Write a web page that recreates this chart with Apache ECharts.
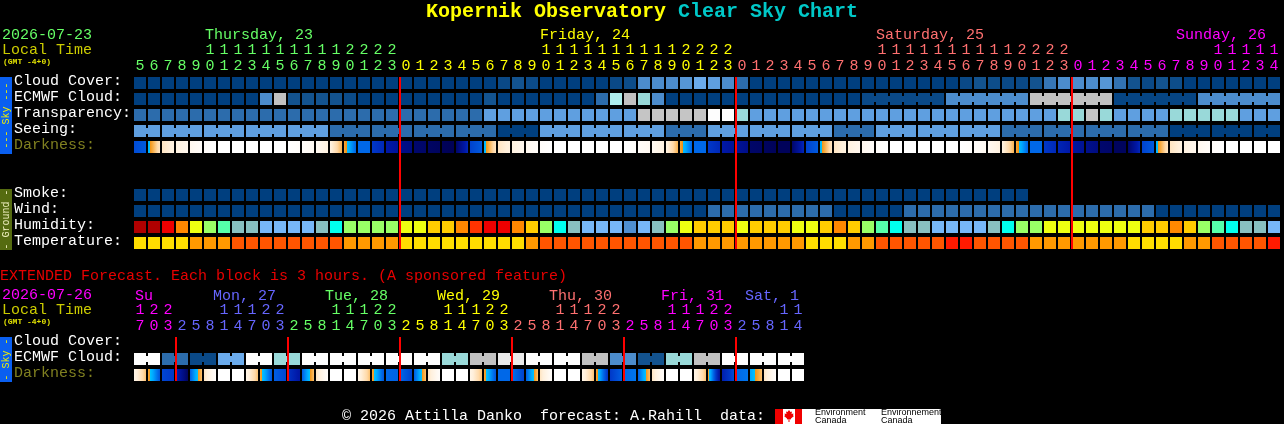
<!DOCTYPE html>
<html>
<head>
<meta charset="utf-8">
<style>html,body{margin:0;padding:0;background:#000}#c{width:1284px;height:424px}</style>
<script src="https://cdn.jsdelivr.net/npm/echarts@6/dist/echarts.min.js"></script>
</head>
<body>
<div id="c"></div>
<script>
// ---------- data ----------
const mainRows = ["Cloud Cover:","ECMWF Cloud:","Transparency:","Seeing:","Darkness:","","","Smoke:","Wind:","Humidity:","Temperature:"];
const extRows = ["Cloud Cover:","ECMWF Cloud:","Darkness:"];
const mainTens = [0,0,0,0,0,1,1,1,1,1,1,1,1,1,1,2,2,2,2,
  0,0,0,0,0,0,0,0,0,0,1,1,1,1,1,1,1,1,1,1,2,2,2,2,
  0,0,0,0,0,0,0,0,0,0,1,1,1,1,1,1,1,1,1,1,2,2,2,2,
  0,0,0,0,0,0,0,0,0,0,1,1,1,1,1];
const mainUnits = [5,6,7,8,9,0,1,2,3,4,5,6,7,8,9,0,1,2,3,
  0,1,2,3,4,5,6,7,8,9,0,1,2,3,4,5,6,7,8,9,0,1,2,3,
  0,1,2,3,4,5,6,7,8,9,0,1,2,3,4,5,6,7,8,9,0,1,2,3,
  0,1,2,3,4,5,6,7,8,9,0,1,2,3,4];
const extTens = [1,2,2, 0,0,0,1,1,1,2,2, 0,0,0,1,1,1,2,2, 0,0,0,1,1,1,2,2, 0,0,0,1,1,1,2,2, 0,0,0,1,1,1,2,2, 0,0,0,1,1];
const extUnits = [7,0,3, 2,5,8,1,4,7,0,3, 2,5,8,1,4,7,0,3, 2,5,8,1,4,7,0,3, 2,5,8,1,4,7,0,3, 2,5,8,1,4,7,0,3, 2,5,8,1,4];
const mainDayStarts = [0,19,43,67];
const extDayStarts = [0,3,11,19,27,35,43];
const mainDayNames = ["Thursday, 23","Friday, 24","Saturday, 25","Sunday, 26"];
const extDayNames = ["Su","Mon, 27","Tue, 28","Wed, 29","Thu, 30","Fri, 31","Sat, 1"];
const mainMidnights = [19,43,67];
const extMidnights = [3,11,19,27,35,43];

const cloud = [0,0,0,0,0,0,0,0,0,0,0,0,0,0,0,0,0,0,0,0,0,0,0,0,0,0,0.5,1,0.6,0,0,0,0,0,0.5,0.7,3,3,3,3.5,4.5,4,3,2,
  0,0,0,0,0,0,0,0,0,0,0,0,0,0,0,0.5,1,0.7,0.5,0.5,1,2.3,3,3,3,3.5,2.2,1,0.5,1,0.7,0,0,0,0,0,0,0];
const ecmwf = [0,0,0,0,0,0,0,0,0,3,8,1,1,1,1,0.6,0,0,0,0,0,0,0,0,0,1,0,0,0,0,0,0,0,2,7,8,6,3,0,0,0,0,0,0,0,0,0,0,0,0,0,0,
  0.5,0.5,0.5,0.5,0.5,0.5,3,3,3,3,3,3,8,8,8,8,8,8,0.3,0.3,0.3,0.3,0.3,0.3,3,3,3,3,3,3];
const ecmwfBlocks = [1,1,1,1,1,1,1,1,1,1,1,1,1,1,1,1,1,1,1,1,1,1,1,1,1,1,1,1,1,1,1,1,1,1,1,1,1,1,1,1,1,1,1,1,1,1,1,1,1,1,1,1,6,6,6,6,6];
const transparency = [2,2,2,2,2,2,2,2,2,2,2,2,2,2,2,2,2,2,2,2,2,2,2,2,2,4,4,4,4,4,4,4,4,4,4,4,8.1,8.1,8.1,8.1,8.1,10,10,6,
  4,4,4,4,4,4,4,4,4,4,4,4,4,4,4,4,4,4,4,4,4,4,6,6,8.1,6,4,4,4,4,6,6,6,6,6,4,4,4];
const seeing = [4,4,4,4,4,4,4,4,4,4,4,4,4,4,2,2,2,2,2,2,2,2,2,2,2,2,0,0,0,4,4,4,4,4,4,4,4,4,2,2,2,4,4,4,4,4,4,4,4,4,
  2,2,2,4,4,4,4,4,4,4,4,4,2,2,2,2,2,2,2,2,2,2,2,2,0,0,0,0,0,0,0,0];
const seeingBlocks = [2,3,3,3,3,3,3,3,3,3,3,3,3,3,3,3,3,3,3,3,3,3,3,3,3,3,3,2];
const darkStart = [3.4,5.2,7.5,8.2,8.8,9.5,10,10,10,10,10,10,9.5,9,8.2,6,4,3,2,1.2,0.6,0.4,0.2,0.5,3.2,
  5.2,7.5,8.2,8.8,9.5,10,10,10,10,10,10,9.5,9,8.2,6,4,3,2,1.6,0.5,0.3,0.2,0.5,3.2,
  5.2,7.5,8.2,8.8,9.5,10,10,10,10,10,10,9.5,9,8.2,6,4,3,2.4,1.8,1.3,0.6,0.3,0.5,3.2,
  5.2,7.5,8.2,8.8,9.5,10,10,10,10];
const darkEnd = [3.7,7.5,8.2,8.8,9.5,10,10,10,10,10,10,9.6,9,8.2,6.2,3.9,4,2.5,1.6,1,0.5,0.3,0.1,2.5,3.7,
  7.5,8.2,8.8,9.5,10,10,10,10,10,10,9.6,9,8.2,6.2,3.9,4,2.5,1.6,1.2,0.4,0.2,0.2,2.5,3.7,
  7.5,8.2,8.8,9.5,10,10,10,10,10,10,9.6,9,8.2,6.2,3.9,4,2.5,2,1.5,1,0.5,0.3,2.5,3.7,
  7.5,8.2,8.8,9.5,10,10,10,10,10];
const smoke = [0,0,0,0,0,0,0,0,0,0,0,0,0,0,0,0,0,0,0,0,0,0,0,0,0,0,0,0,0,0,0,0,0,0,0,0,0,0,0,0,0,0,0,0,0,0,0,0,0,0,0,0,0,0,0,0,0,0,0,0,0,0,0,0];
const wind = [0,0,0,0,0,0,0,0,0,0,0,0,0,0,0,0,0,0,0,0,0,0,0,0,0,0,0,0,0,0,0,0,0,0,0,0,0,0,0,0,0,2,2,2,2,2,2,2,2,2,0,0,0,0,0,
  2,2,2,2,2,2,2,2,2,2,2,2,2,2,2,2,2,2,0,0,0,0,0,0,0,0,0];
const humidity = [0,0,1,3,5,6,7,9,9,10,10,10,10,9,8,6,6,6,6,5,5,4,4,3,2,1,1,3,4,6,8,9,10,10,10,11,10,9,6,5,4,4,4,5,4,4,4,5,5,4,3,4,
  6,7,8,9,9,10,10,10,10,9,8,6,6,5,5,5,5,5,5,5,4,4,3,4,6,7,8,9,9,10];
const temperature = [0,0,0,0,1,1,1,2,2,2,2,2,2,2,2,1,1,1,1,0,0,0,0,0,0,0,0,0,1,2,2,2,2,2,2,2,2,2,2,2,1,1,1,1,1,1,1,1,0,0,0,1,
  1,2,2,2,2,2,3,3,2,2,2,2,1,1,1,1,1,1,1,0,0,0,0,1,1,2,2,2,2,3];
const extEcmwf = [10,10,2,2,0.5,0.5,4.5,4.5,10,10,6,6,10,10,10,10,10,10,10,10,10,10,6,6,8,8,9,9,10,10,10,10,8,8,3,3,1,1,6,6,8,8,10,10,10,10,10,10];
const extEcmwfBlocks = [2,2,2,2,2,2,2,2,2,2,2,2,2,2,2,2,2,2,2,2,2,2,2,2];
const extDarkStart = [8.5,6,3.3,2.4,3.8,7.5,10,10,8.5,6,3.8,2.8,3.8,7.5,10,10,8.5,6,4,4,3.8,7.5,10,10,8.5,6,4,4.2,3.8,7.5,10,10,8.5,6,3,4,3.8,7.5,10,10,8.5,6,2.2,4,4.9,7.5,10,10];
const extDarkEnd = [6.5,3.6,3,0.3,6.5,9.5,10,10,6.5,3.6,3.3,1.8,6.5,9.5,10,10,6.5,3.6,3.9,3.2,6.5,9.5,10,10,6.5,3.6,4,3.2,6.5,9.5,10,10,6.5,2.8,3.8,4.2,6.5,9.5,10,10,6.5,1.5,3.4,4.2,6.5,9.5,10,10];

// ---------- scales: level -> colour ----------
const FONT = '"Liberation Mono", monospace';
const dayColors = ['#66FF66','#FFFF00','#FF7070','#FF00FF','#6666FF'];
const extDayColors = ['#FF00FF','#6666FF','#66FF66','#FFFF00','#FF7070','#FF00FF','#6666FF'];
const skyPalette = ['#003F7F','#13538F','#2C6CAC','#4C8CCC','#5F9FE0','#77B7F7','#99D9D9','#AEEDED','#C1C1C1','#EAEAEA','#FDFDFD'];
const humidityPalette = ['#B00000','#EE0000','#FF3300','#FF8800','#FFCC00','#EEFF11','#99FF66','#55FFAA','#00FFEE','#88C0C0','#77B7F7','#4F8FD0'];
const tempPalette = ['#FFDD00','#FF9900','#FF5500','#FF1A00'];
const darkStops = [[0,'#000050'],[1,'#000C80'],[2,'#0018A8'],[3,'#0038C8'],[4,'#0068E8'],[5,'#00A8FF'],[5.5,'#00C0FF'],[5.51,'#F09010'],[6,'#F8A838'],[7,'#FFD9A8'],[8,'#FFF0DC'],[9,'#FFF9F2'],[10,'#FFFFFF']];

function hex(c){return [1,3,5].map(k=>parseInt(c.substr(k,2),16));}
function mix(a,b,t){const A=hex(a),B=hex(b);return 'rgb('+A.map((v,k)=>Math.round(v+(B[k]-v)*t)).join(',')+')';}
function levelColor(p,v){const lo=Math.floor(v),hi=Math.min(p.length-1,lo+1);return lo===v?p[lo]:mix(p[lo],p[hi],v-lo);}
function darkColor(v){
  for(let k=0;k<darkStops.length-1;k++){
    const a=darkStops[k],b=darkStops[k+1];
    if(v>=a[0]&&v<=b[0]) return mix(a[1],b[1],(v-a[0])/(b[0]-a[0]));
  }
  return darkStops[darkStops.length-1][1];
}
function darkFill(s,e){
  if(s===e) return darkColor(s);
  const stops=[{offset:0,color:darkColor(s)}];
  const lvls=darkStops.map(d=>d[0]).filter(l=>l>Math.min(s,e)&&l<Math.max(s,e));
  if(s>e) lvls.reverse();
  lvls.forEach(l=>stops.push({offset:(l-s)/(e-s),color:darkColor(l)}));
  stops.push({offset:1,color:darkColor(e)});
  return {type:'linear',x:0,y:0,x2:1,y2:0,colorStops:stops};
}

// ---------- mark builders ----------
function linksFrom(blocks){
  const out=[];blocks.forEach(n=>{for(let k=0;k<n;k++)out.push(k<n-1?1:0);});return out;
}
function cellSeries(gridIdx,row,values,palette,blocks){
  const links=blocks?linksFrom(blocks):[];
  return {
    type:'custom',xAxisIndex:gridIdx*2,yAxisIndex:gridIdx,silent:true,
    encode:{x:0,y:1},
    data:values.map((v,i)=>[i,row,v,links[i]||0]),
    renderItem(params,api){
      const c=api.coord([api.value(0),api.value(1)]),fill=levelColor(palette,api.value(2));
      const kids=[{type:'rect',shape:{x:c[0]-6,y:c[1]-6,width:12,height:12},style:{fill}}];
      if(api.value(3)) kids.push({type:'rect',shape:{x:c[0]+6,y:c[1]-3,width:2,height:6},style:{fill}});
      return {type:'group',children:kids};
    }
  };
}
function darkSeries(gridIdx,row,starts,ends){
  return {
    type:'custom',xAxisIndex:gridIdx*2,yAxisIndex:gridIdx,silent:true,
    encode:{x:0,y:1},
    data:starts.map((s,i)=>[i,row,s,ends[i]]),
    renderItem(params,api){
      const c=api.coord([api.value(0),api.value(1)]);
      return {type:'rect',shape:{x:c[0]-6,y:c[1]-6,width:12,height:12},style:{fill:darkFill(api.value(2),api.value(3))}};
    }
  };
}
function midnightSeries(gridIdx,cols,lastRow){
  return {
    type:'custom',xAxisIndex:gridIdx*2,yAxisIndex:gridIdx,silent:true,z:20,
    encode:{x:0},
    data:cols.map(c=>[c]),
    renderItem(params,api){
      const top=api.coord([api.value(0),0]),bot=api.coord([api.value(0),lastRow]);
      return {type:'rect',z2:100,shape:{x:top[0]-7,y:top[1]-6,width:2,height:bot[1]-top[1]+12},style:{fill:'#FF0000'}};
    }
  };
}
function dayIndex(starts,i){let d=0;starts.forEach((s,k)=>{if(i>=s)d=k;});return d;}
function hourAxis(gridIdx,vals,starts,colors,offset,blankZero){
  return {
    type:'category',gridIndex:gridIdx,position:'top',offset,
    data:vals.map(String),
    axisLine:{show:false},axisTick:{show:false},splitLine:{show:false},
    axisLabel:{interval:0,margin:1,fontFamily:FONT,fontSize:15,hideOverlap:false,
      color:(v,i)=>colors[dayIndex(starts,i)],
      formatter:v=>(blankZero&&v==='0')?'':v}
  };
}
function rowAxis(gridIdx,rows){
  return {
    type:'category',gridIndex:gridIdx,inverse:true,data:rows,
    axisLine:{show:false},axisTick:{show:false},splitLine:{show:false},
    axisLabel:{interval:0,align:'left',margin:119,fontFamily:FONT,fontSize:15,verticalAlign:'bottom',lineHeight:4,
      color:v=>v==='Darkness:'?'#808020':'#FFFFFF'}
  };
}
function txt(text,x,y,color,size,extra){
  return {type:'text',x,y,silent:true,style:Object.assign({text,fill:color,font:(size||15)+'px '+FONT,align:'left',verticalAlign:'middle'},extra||{})};
}
function sideBar(y,h,fill,label,color){
  return [
    {type:'rect',shape:{x:0,y,width:12,height:h},style:{fill},silent:true},
    {type:'text',x:6,y:y+h/2,rotation:Math.PI/2,silent:true,style:{text:label,fill:color,font:'10px '+FONT,align:'center',verticalAlign:'middle'}}
  ];
}

const mainDayX=[205,540,876,1176], extDayX=[135,213,325,437,549,661,745];
const graphics=[
  txt('Kopernik Observatory',426,12,'#FFFF00',20,{font:'bold 20px '+FONT}),
  txt('Clear Sky Chart',678,12,'#00C8C8',20,{font:'bold 20px '+FONT}),
  txt('2026-07-23',2,35,'#66FF66'),
  txt('Local Time',2,50,'#CCCC00'),
  txt('(GMT -4+0)',3,62,'#E0E000',8,{font:'bold 8px '+FONT}),
  txt('EXTENDED Forecast. Each block is 3 hours. (A sponsored feature)',0,276,'#E80000'),
  txt('2026-07-26',2,295,'#FF00FF'),
  txt('Local Time',2,310,'#CCCC00'),
  txt('(GMT -4+0)',3,322,'#E0E000',8,{font:'bold 8px '+FONT}),
  txt('\u00A9 2026 Attilla Danko  forecast: A.Rahill  data:',342,416,'#FFFFFF'),
  ...sideBar(77,77,'#0A5FF0','--- Sky ---','#F0F000'),
  ...sideBar(189,61,'#556B10','- Ground -','#F0F0C0'),
  ...sideBar(337,45,'#0A5FF0','- Sky -','#F0F000'),
  {type:'rect',shape:{x:775,y:409,width:166,height:15},style:{fill:'#FFFFFF'},silent:true},
  {type:'rect',shape:{x:775,y:409,width:8,height:15},style:{fill:'#F00000'},silent:true},
  {type:'rect',shape:{x:795,y:409,width:7,height:15},style:{fill:'#F00000'},silent:true},
  {type:'polygon',shape:{points:[[789,410],[790.5,412],[792,411.5],[791.5,414],[793.5,413.5],[793,415.5],[794,416],[791,418.5],[791,419.5],[789.5,419],[789.5,422],[788.5,422],[788.5,419],[787,419.5],[787,418.5],[784,416],[785,415.5],[784.5,413.5],[786.5,414],[786,411.5],[787.5,412]]},style:{fill:'#F00000'},silent:true},
  txt('Environment',815,413,'#000000',9,{font:'9px "Liberation Sans"'}),
  txt('Canada',815,421,'#000000',9,{font:'9px "Liberation Sans"'}),
  txt('Environnement',881,413,'#000000',9,{font:'9px "Liberation Sans"'}),
  txt('Canada',881,421,'#000000',9,{font:'9px "Liberation Sans"'})
];
mainDayNames.forEach((n,k)=>graphics.push(txt(n,mainDayX[k],35,dayColors[k])));
extDayNames.forEach((n,k)=>graphics.push(txt(n,extDayX[k],296,extDayColors[k])));

const option={
  backgroundColor:'#000000',animation:false,tooltip:{show:false},
  grid:[
    {left:133,top:75,width:14*mainUnits.length,height:16*mainRows.length,containLabel:false},
    {left:133,top:335,width:14*extUnits.length,height:16*extRows.length,containLabel:false}
  ],
  xAxis:[
    hourAxis(0,mainUnits,mainDayStarts,dayColors,0,false),
    hourAxis(0,mainTens,mainDayStarts,dayColors,16,true),
    hourAxis(1,extUnits,extDayStarts,extDayColors,0,false),
    hourAxis(1,extTens,extDayStarts,extDayColors,16,true)
  ],
  yAxis:[rowAxis(0,mainRows),rowAxis(1,extRows)],
  series:[
    cellSeries(0,0,cloud,skyPalette),
    cellSeries(0,1,ecmwf,skyPalette,ecmwfBlocks),
    cellSeries(0,2,transparency,skyPalette),
    cellSeries(0,3,seeing,skyPalette,seeingBlocks),
    darkSeries(0,4,darkStart,darkEnd),
    cellSeries(0,7,smoke,skyPalette),
    cellSeries(0,8,wind,skyPalette),
    cellSeries(0,9,humidity,humidityPalette),
    cellSeries(0,10,temperature,tempPalette),
    cellSeries(1,1,extEcmwf,skyPalette,extEcmwfBlocks),
    darkSeries(1,2,extDarkStart,extDarkEnd),
    midnightSeries(0,mainMidnights,10),
    midnightSeries(1,extMidnights,2)
  ],
  graphic:{elements:graphics}
};
const chart=echarts.init(document.getElementById('c'),null,{renderer:'canvas',devicePixelRatio:1});
chart.setOption(option);
</script>
</body>
</html>
